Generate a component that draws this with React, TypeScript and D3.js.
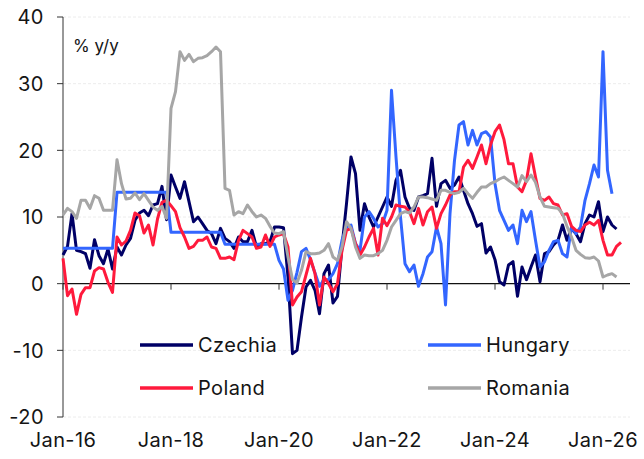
import { useEffect, useRef } from "react"
import * as d3 from "d3"

// monthly % y/y, starting Jan-16
const czechia = [
	4.3, 5.6, 10.5, 5.0, 4.8, 4.5, 2.3, 6.6, 4.2, 3.0, 5.2, 2.2,
	5.5, 4.3, 5.8, 6.8, 9.5, 10.6, 11.0, 10.2, 11.8, 12.0, 14.6, 9.6,
	16.3, 14.5, 12.8, 15.3, 12.3, 9.3, 10.0, 9.0, 8.0, 7.5, 6.0, 8.3,
	6.8, 6.3, 5.3, 7.0, 6.3, 6.3, 8.0, 5.5, 6.0, 6.0, 6.3, 8.5,
	8.5, 8.4, 1.0, -10.5, -10.0, -5.0, -0.5, 0.5, -1.0, -4.5, 1.5, 2.8,
	-2.9, -1.9, 5.5, 12.0, 19.0, 16.5, 8.0, 12.0, 10.0, 8.5, 10.0, 11.5,
	13.0, 11.6, 15.5, 17.0, 13.0, 11.3, 11.0, 13.0, 13.2, 13.5, 18.8, 11.6,
	15.0, 15.5, 14.3, 14.8, 16.0, 14.0, 12.0, 10.5, 8.6, 9.0, 4.6, 5.5,
	3.6, 0.3, -0.2, 2.8, 3.3, -1.9, 2.5, 0.6, 2.5, 4.3, 0.3, 4.5,
	4.8, 5.8, 6.5, 8.8, 6.5, 8.3, 7.5, 6.3, 9.0, 10.3, 10.0, 12.3,
	7.8, 10.0, 8.8, 8.2,
]

const hungary = [
	5.3, 5.3, 5.3, 5.3, 5.3, 5.3, 5.3, 5.3, 5.3, 5.3, 5.3, 5.3,
	13.7, 13.7, 13.7, 13.7, 13.7, 13.7, 13.7, 13.7, 13.7, 13.7, 13.7, 13.7,
	7.7, 7.7, 7.7, 7.7, 7.7, 7.7, 7.7, 7.7, 7.7, 7.7, 7.7, 7.7,
	5.9, 5.9, 5.9, 5.9, 5.9, 5.9, 5.9, 5.9, 5.9, 5.9, 5.9, 5.9,
	3.5, 2.2, -2.5, -1.0, 1.7, 4.8, 5.3, 3.6, 1.6, -0.4, 0.6, 0.6,
	1.5, 3.0, 6.5, 8.5, 8.8, 6.0, 5.0, 10.0, 10.8, 9.8, 8.5, 9.0,
	11.0, 29.0, 19.0, 10.0, 3.0, 1.8, 2.8, -0.4, 1.5, 4.0, 4.8, 8.5,
	6.0, -3.2, 10.5, 18.5, 23.8, 24.3, 20.8, 23.0, 20.8, 22.5, 22.8, 22.0,
	15.0, 11.0, 9.5, 8.0, 8.8, 6.0, 11.0, 9.3, 10.8, 6.5, 2.5, 3.3,
	5.0, 6.3, 6.5, 4.5, 4.0, 8.5, 7.5, 8.5, 12.5, 15.0, 17.8, 16.0,
	34.8, 17.0, 13.5,
]

const poland = [
	3.8, -1.8, -0.8, -4.6, -1.6, -0.6, -0.6, 1.9, 2.4, 2.2, 0.2, -1.3,
	7.0, 5.8, 6.4, 8.0, 10.6, 10.2, 7.6, 8.8, 5.8, 9.7, 12.2, 12.5,
	11.7, 10.8, 8.4, 7.0, 5.3, 5.6, 6.5, 6.5, 7.0, 5.5, 5.3, 3.8,
	3.8, 4.0, 3.6, 6.5, 8.0, 7.5, 7.0, 5.3, 5.5, 7.3, 5.6, 7.0,
	7.3, 7.5, 5.5, -3.2, -2.0, -1.2, 1.3, 3.8, 1.5, -3.2, 1.0, 0.0,
	-1.2, 0.0, 5.0, 8.0, 8.3, 6.0, 4.3, 5.5, 7.0, 8.3, 4.3, 9.8,
	8.7, 10.0, 11.8, 11.6, 11.5, 10.8, 9.0, 11.3, 8.8, 10.8, 11.5, 8.3,
	10.5, 11.8, 13.3, 13.8, 13.8, 17.5, 18.5, 17.3, 19.0, 20.8, 18.0, 20.8,
	22.8, 23.8, 21.6, 18.0, 18.0, 14.5, 13.8, 15.5, 19.5, 16.0, 12.8, 12.5,
	13.0, 12.0, 11.8, 10.3, 10.5, 8.6, 8.0, 7.8, 8.8, 9.2, 8.8, 9.5,
	6.5, 4.3, 4.3, 5.6, 6.2,
]

const romania = [
	10.3, 11.3, 10.8, 9.8, 12.5, 12.5, 11.3, 13.2, 12.8, 11.0, 11.0, 11.0,
	18.6, 15.0, 12.7, 12.8, 13.6, 12.6, 13.5, 12.5, 11.5, 11.0, 11.6, 9.8,
	26.3, 28.8, 34.8, 33.5, 34.4, 33.3, 33.8, 33.9, 34.2, 34.8, 35.5, 34.8,
	14.3, 14.0, 10.3, 10.8, 10.5, 11.8, 10.8, 10.0, 10.3, 9.8, 8.6, 7.6,
	7.5, 7.8, 4.0, 0.6, 0.1, 2.0, 4.8, 4.5, 4.5, 4.6, 5.0, 6.0,
	4.0, 3.5, 5.5, 9.3, 8.3, 5.5, 3.8, 4.3, 4.2, 4.2, 4.5, 5.0,
	6.5, 8.5, 9.5, 10.5, 10.8, 10.6, 11.5, 13.0, 13.0, 12.9, 12.7, 12.5,
	14.0, 14.0, 13.7, 13.5, 13.7, 14.3, 13.5, 12.8, 13.7, 14.5, 14.5, 15.0,
	15.3, 15.7, 16.0, 15.5, 15.0, 14.5, 16.2, 15.3, 16.3, 15.2, 13.0, 11.6,
	11.5, 11.4, 11.3, 10.5, 8.6, 7.0, 5.0, 4.4, 3.9, 3.8, 4.0, 3.4,
	1.0, 1.3, 1.5, 1.0,
]

const xTickLabels = ["Jan-16", "Jan-18", "Jan-20", "Jan-22", "Jan-24", "Jan-26"]
const yTicks = [40, 30, 20, 10, 0, -10, -20]

const series = [
	{ name: "Czechia", values: czechia, color: "#000066" },
	{ name: "Hungary", values: hungary, color: "#3366ff" },
	{ name: "Poland", values: poland, color: "#ff1a3c" },
	{ name: "Romania", values: romania, color: "#a6a6a6" },
]

const FONT = "Inter, 'Noto Sans', sans-serif"

const App = () => {
	const svgRef = useRef(null)

	useEffect(() => {
		const svg = d3.select(svgRef.current)
		svg.selectAll("*").remove()

		const width = 644
		const height = 459
		svg.attr("width", width).attr("height", height)

		// month index -> pixel
		const x = d3.scaleLinear().domain([0, 126]).range([63, 630])
		const y = d3.scaleLinear().domain([-20, 40]).range([417, 17])

		// faint grid
		svg.append("g")
			.selectAll("line")
			.data(yTicks.filter((d) => d !== 0))
			.enter()
			.append("line")
			.attr("x1", 63)
			.attr("x2", 630)
			.attr("y1", (d) => y(d))
			.attr("y2", (d) => y(d))
			.attr("stroke", "#ececec")
			.attr("stroke-dasharray", "3,2")
			.attr("stroke-width", 1)

		// y axis
		const yAxis = svg.append("g")
		yAxis.append("line")
			.attr("x1", 63).attr("x2", 63)
			.attr("y1", y(40)).attr("y2", y(-20))
			.attr("stroke", "#333")
		yAxis.selectAll("line.tick")
			.data(yTicks)
			.enter()
			.append("line")
			.attr("class", "tick")
			.attr("x1", 57).attr("x2", 63)
			.attr("y1", (d) => y(d)).attr("y2", (d) => y(d))
			.attr("stroke", "#333")
		yAxis.selectAll("text")
			.data(yTicks)
			.enter()
			.append("text")
			.attr("x", 44)
			.attr("y", (d) => y(d))
			.attr("dy", "0.36em")
			.attr("text-anchor", "end")
			.style("font-family", FONT)
			.style("font-size", "20px")
			.style("letter-spacing", "0.5px")
			.attr("fill", "#151515")
			.text((d) => d)

		// x axis on zero line
		const xAxis = svg.append("g")
		xAxis.append("line")
			.attr("x1", 63).attr("x2", 630)
			.attr("y1", y(0)).attr("y2", y(0))
			.attr("stroke", "#111")
			.attr("stroke-width", 1.2)
		xAxis.selectAll("line.tick")
			.data(xTickLabels)
			.enter()
			.append("line")
			.attr("class", "tick")
			.attr("x1", (_, i) => x(i * 24)).attr("x2", (_, i) => x(i * 24))
			.attr("y1", y(0)).attr("y2", y(0) + 6)
			.attr("stroke", "#333")
		xAxis.selectAll("text")
			.data(xTickLabels)
			.enter()
			.append("text")
			.attr("x", (_, i) => x(i * 24))
			.attr("y", 447)
			.attr("text-anchor", "middle")
			.style("font-family", FONT)
			.style("font-size", "20px")
			.style("letter-spacing", "0.4px")
			.attr("fill", "#151515")
			.text((d) => d)

		svg.append("text")
			.attr("x", 73)
			.attr("y", 52)
			.style("font-family", FONT)
			.style("font-size", "17px")
			.attr("fill", "#151515")
			.text("% y/y")

		const line = d3.line<number>()
			.x((_, i) => x(i))
			.y((d) => y(d))

		svg.append("g")
			.selectAll("path")
			.data(series)
			.enter()
			.append("path")
			.attr("d", (d) => line(d.values))
			.attr("fill", "none")
			.attr("stroke", (d) => d.color)
			.attr("stroke-width", 3)
			.attr("stroke-linejoin", "round")

		// legend, 2 x 2
		const legend = svg.append("g")
		const pos = [
			[140, 345],
			[428, 345],
			[140, 388],
			[428, 388],
		]
		series.forEach((s, i) => {
			const [lx, ly] = pos[i]
			legend.append("line")
				.attr("x1", lx).attr("x2", lx + 53)
				.attr("y1", ly).attr("y2", ly)
				.attr("stroke", s.color)
				.attr("stroke-width", 3.5)
			legend.append("text")
				.attr("x", lx + 58)
				.attr("y", ly)
				.attr("dy", "0.36em")
				.style("font-family", FONT)
				.style("font-size", "20px")
				.style("letter-spacing", "0.4px")
				.attr("fill", "#151515")
				.text(s.name)
		})
	}, [])

	return (
		<svg
			ref={svgRef}
			style={{ position: "absolute", left: 0, top: 0 }}
		></svg>
	)
}

export default App
